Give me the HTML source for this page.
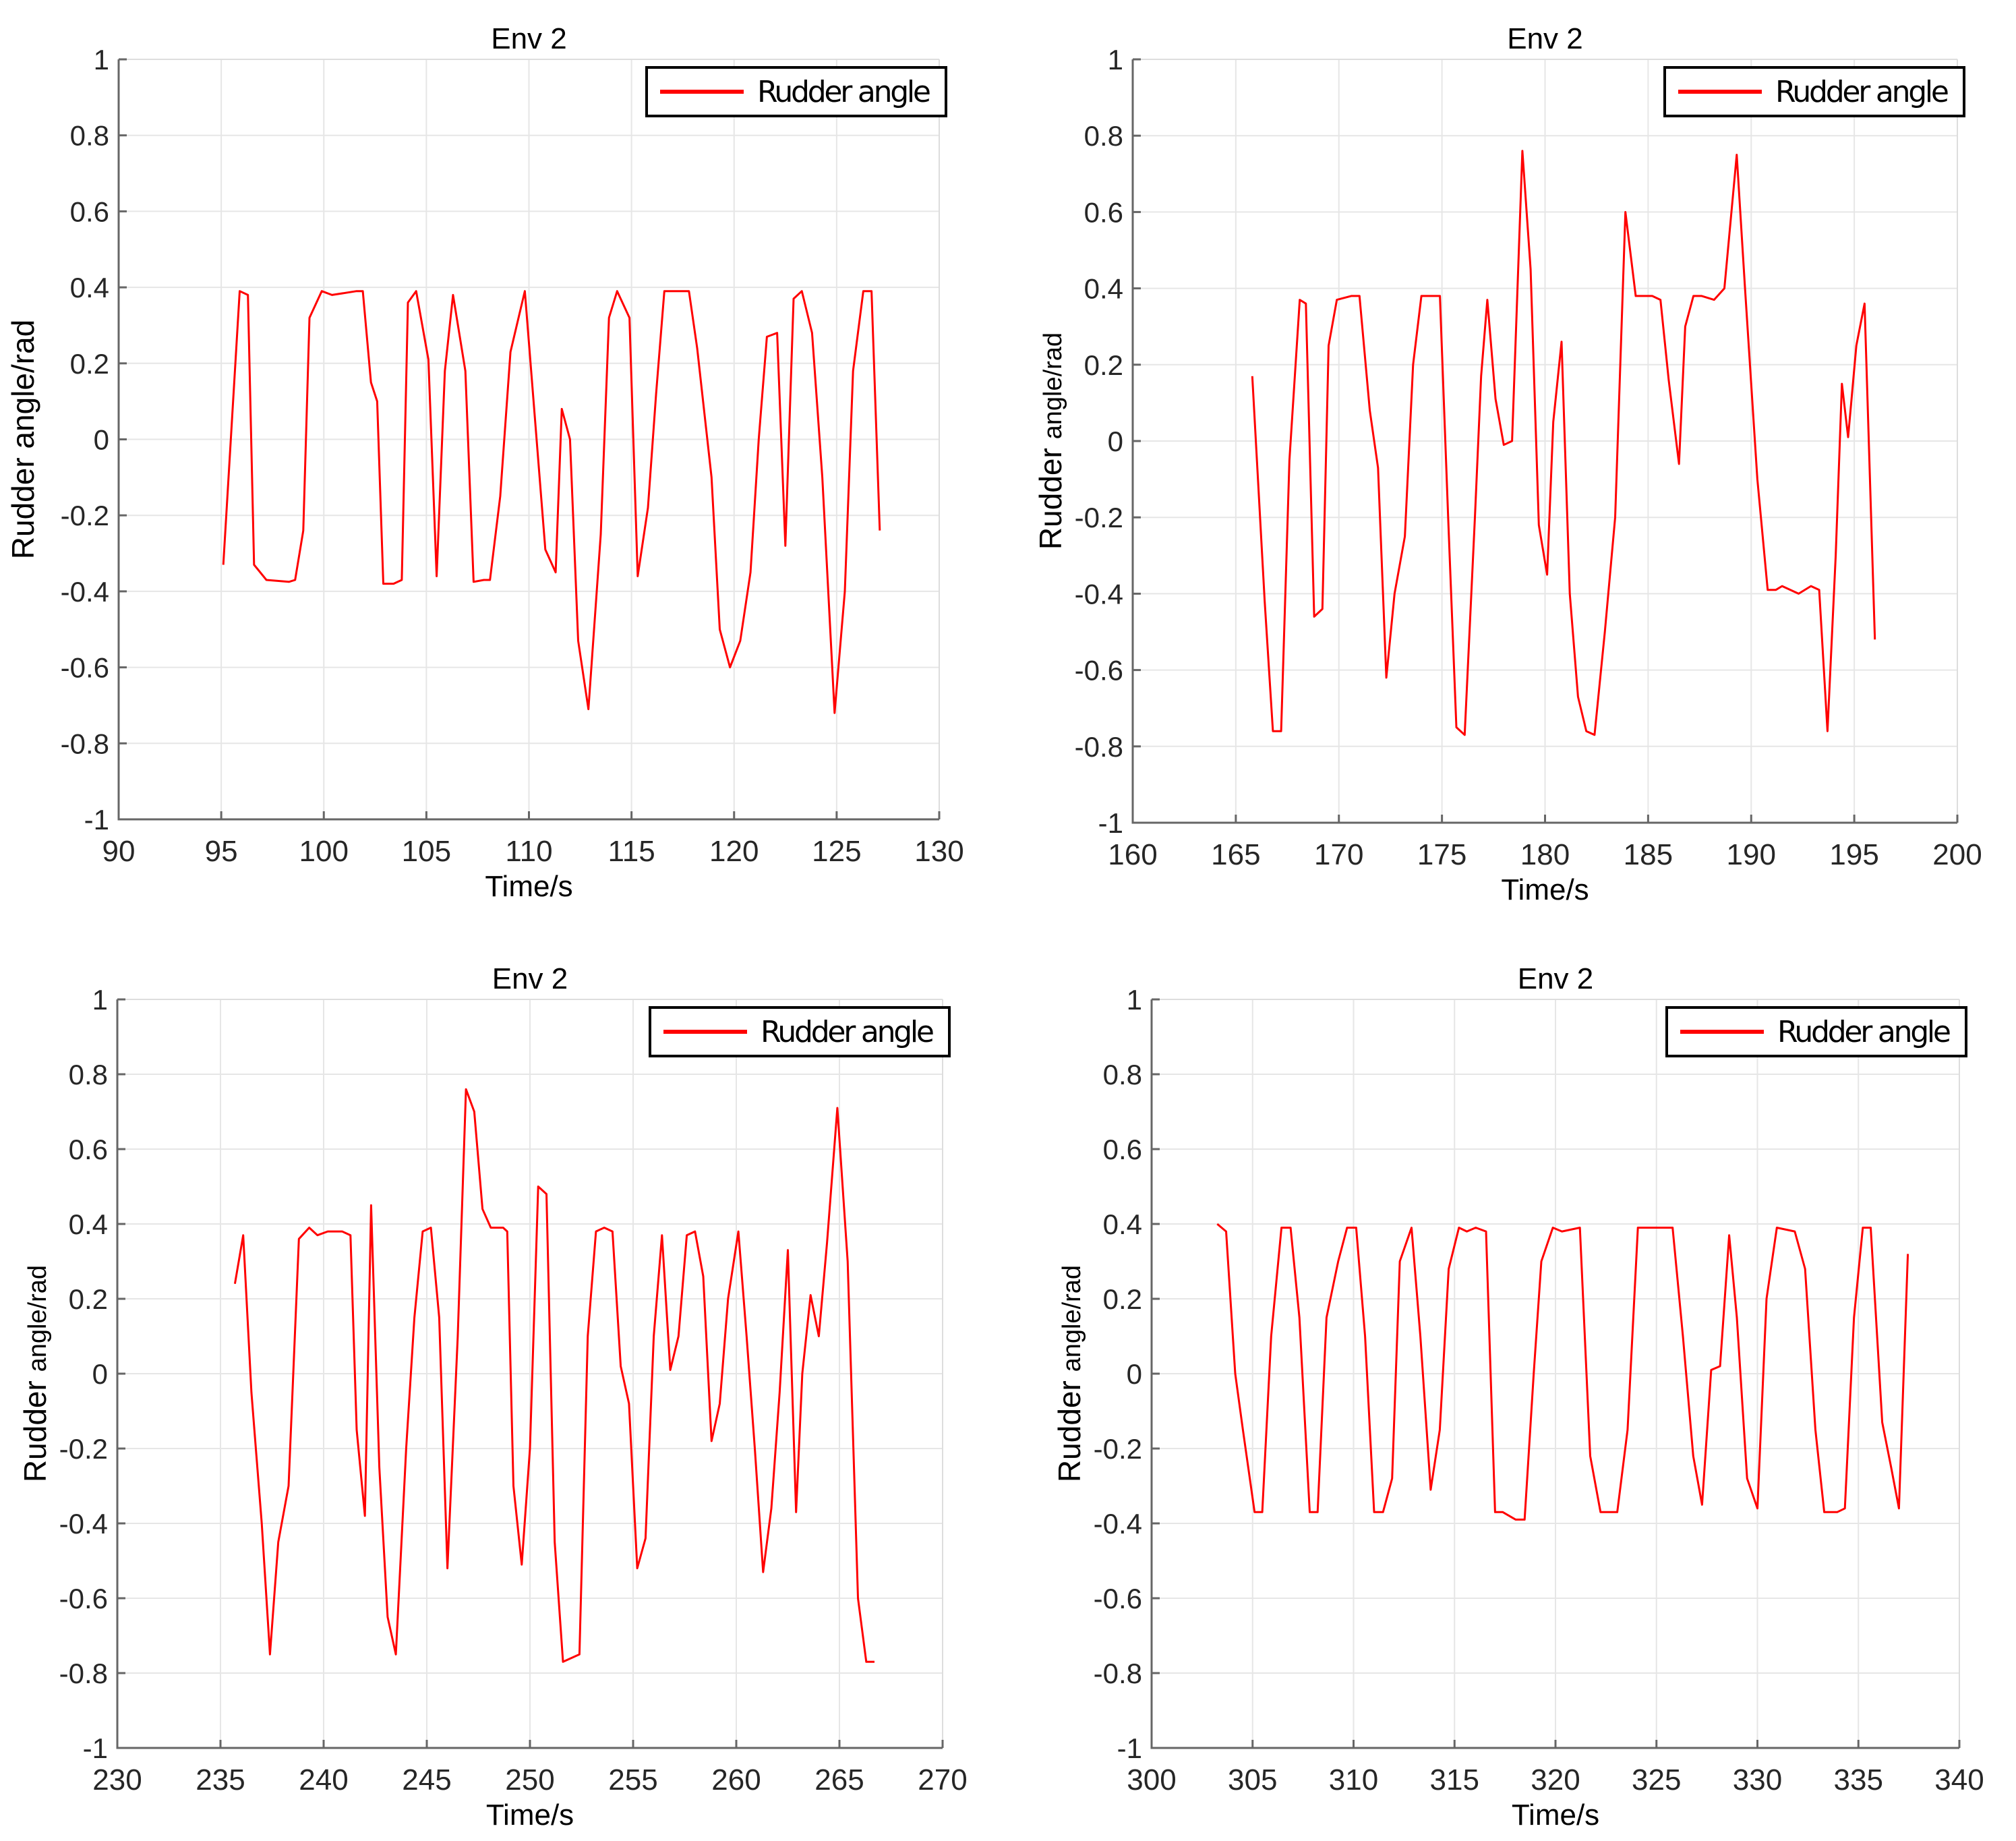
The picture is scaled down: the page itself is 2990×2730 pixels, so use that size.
<!DOCTYPE html>
<html><head><meta charset="utf-8"><style>
body{margin:0;background:#fff;}
svg{display:block;font-family:"Liberation Sans",sans-serif;}
</style></head><body>
<svg id="chart" width="2990" height="2730" viewBox="0 0 2990 2730"></svg>
<script>
const yTicks=[-1,-0.8,-0.6,-0.4,-0.2,0,0.2,0.4,0.6,0.8,1];
const yTickLabels=["-1","-0.8","-0.6","-0.4","-0.2","0","0.2","0.4","0.6","0.8","1"];
const xTicks1=[90,95,100,105,110,115,120,125,130];
const xTicks2=[160,165,170,175,180,185,190,195,200];
const xTicks3=[230,235,240,245,250,255,260,265,270];
const xTicks4=[300,305,310,315,320,325,330,335,340];
const t1=[95.1,95.9,96.3,96.6,97.2,98.3,98.6,99.0,99.3,99.9,100.4,101.6,101.9,102.3,102.6,102.9,103.4,103.8,104.1,104.5,105.1,105.5,105.9,106.3,106.9,107.3,107.8,108.1,108.6,109.1,109.8,110.8,111.3,111.6,112.0,112.4,112.9,113.5,113.9,114.3,114.9,115.3,115.8,116.2,116.6,117.3,117.8,118.2,118.9,119.3,119.8,120.3,120.8,121.2,121.6,122.1,122.5,122.9,123.3,123.8,124.3,124.9,125.4,125.8,126.3,126.7,127.1];
const v1=[-0.33,0.39,0.38,-0.33,-0.37,-0.375,-0.37,-0.24,0.32,0.39,0.38,0.39,0.39,0.15,0.1,-0.38,-0.38,-0.37,0.36,0.39,0.21,-0.36,0.18,0.38,0.18,-0.375,-0.37,-0.37,-0.15,0.23,0.39,-0.29,-0.35,0.08,0.0,-0.53,-0.71,-0.25,0.32,0.39,0.32,-0.36,-0.18,0.12,0.39,0.39,0.39,0.24,-0.1,-0.5,-0.6,-0.53,-0.35,0.0,0.27,0.28,-0.28,0.37,0.39,0.28,-0.1,-0.72,-0.4,0.18,0.39,0.39,-0.24];
const t2=[165.8,166.4,166.8,167.2,167.6,168.1,168.4,168.8,169.2,169.5,169.9,170.6,171.0,171.5,171.9,172.3,172.7,173.2,173.6,174.0,174.6,174.9,175.3,175.7,176.1,176.6,176.9,177.2,177.6,178.0,178.4,178.9,179.3,179.7,180.1,180.4,180.8,181.2,181.6,182.0,182.4,182.9,183.4,183.9,184.4,185.2,185.6,186.0,186.5,186.8,187.2,187.6,188.2,188.7,189.3,189.7,190.3,190.8,191.2,191.5,192.3,192.9,193.3,193.7,194.1,194.4,194.7,195.1,195.5,196.0];
const v2=[0.17,-0.42,-0.76,-0.76,-0.05,0.37,0.36,-0.46,-0.44,0.25,0.37,0.38,0.38,0.08,-0.07,-0.62,-0.4,-0.25,0.2,0.38,0.38,0.38,-0.2,-0.75,-0.77,-0.2,0.17,0.37,0.11,-0.01,0.0,0.76,0.45,-0.22,-0.35,0.05,0.26,-0.4,-0.67,-0.76,-0.77,-0.5,-0.2,0.6,0.38,0.38,0.37,0.16,-0.06,0.3,0.38,0.38,0.37,0.4,0.75,0.4,-0.1,-0.39,-0.39,-0.38,-0.4,-0.38,-0.39,-0.76,-0.3,0.15,0.01,0.25,0.36,-0.52];
const t3=[235.7,236.1,236.5,237.0,237.4,237.8,238.3,238.8,239.3,239.7,240.2,240.9,241.3,241.6,242.0,242.3,242.7,243.1,243.5,244.0,244.4,244.8,245.2,245.6,246.0,246.5,246.9,247.3,247.7,248.1,248.7,248.9,249.2,249.6,250.0,250.4,250.8,251.2,251.6,252.0,252.4,252.8,253.2,253.6,254.0,254.4,254.8,255.2,255.6,256.0,256.4,256.8,257.2,257.6,258.0,258.4,258.8,259.2,259.6,260.1,260.5,260.9,261.3,261.7,262.1,262.5,262.9,263.2,263.6,264.0,264.4,264.9,265.4,265.9,266.3,266.7];
const v3=[0.24,0.37,-0.05,-0.4,-0.75,-0.45,-0.3,0.36,0.39,0.37,0.38,0.38,0.37,-0.15,-0.38,0.45,-0.25,-0.65,-0.75,-0.2,0.15,0.38,0.39,0.15,-0.52,0.1,0.76,0.7,0.44,0.39,0.39,0.38,-0.3,-0.51,-0.2,0.5,0.48,-0.45,-0.77,-0.76,-0.75,0.1,0.38,0.39,0.38,0.02,-0.08,-0.52,-0.44,0.1,0.37,0.01,0.1,0.37,0.38,0.26,-0.18,-0.08,0.2,0.38,0.1,-0.2,-0.53,-0.36,-0.05,0.33,-0.37,0.0,0.21,0.1,0.35,0.71,0.3,-0.6,-0.77,-0.77];
const t4=[303.25,303.69,304.14,304.52,305.10,305.48,305.92,306.43,306.88,307.32,307.83,308.22,308.66,309.24,309.68,310.13,310.57,311.02,311.46,311.91,312.29,312.87,313.31,313.82,314.27,314.71,315.22,315.61,316.05,316.56,317.01,317.39,318.03,318.47,318.92,319.30,319.87,320.32,321.21,321.72,322.23,323.06,323.57,324.08,324.71,325.80,326.31,326.82,327.26,327.71,328.15,328.60,328.98,329.49,330.00,330.45,330.96,331.85,332.36,332.87,333.31,333.95,334.33,334.78,335.22,335.61,336.18,336.62,337.01,337.45];
const v4=[0.4,0.38,0.0,-0.15,-0.37,-0.37,0.1,0.39,0.39,0.15,-0.37,-0.37,0.15,0.3,0.39,0.39,0.1,-0.37,-0.37,-0.28,0.3,0.39,0.1,-0.31,-0.15,0.28,0.39,0.38,0.39,0.38,-0.37,-0.37,-0.39,-0.39,0.0,0.3,0.39,0.38,0.39,-0.22,-0.37,-0.37,-0.15,0.39,0.39,0.39,0.1,-0.22,-0.35,0.01,0.02,0.37,0.15,-0.28,-0.36,0.2,0.39,0.38,0.28,-0.15,-0.37,-0.37,-0.36,0.15,0.39,0.39,-0.13,-0.25,-0.36,0.32];

const NS="http://www.w3.org/2000/svg";
const svg=document.getElementById('chart');
function mk(tag,attrs,parent,text){const e=document.createElementNS(NS,tag);for(const k in attrs)e.setAttribute(k,attrs[k]);if(text!==undefined)e.textContent=text;(parent||svg).appendChild(e);return e;}

function panel(id,L,T,R,B,xTicks,ts,vs,splitLabel){
  const g=mk('g',{});
  
  
  const x0=xTicks[0],x1=xTicks[xTicks.length-1];
  const xs=v=>L+(v-x0)/(x1-x0)*(R-L);
  const ys=v=>B-(v+1)/2*(B-T);
  xTicks.forEach(v=>{const l=mk('line',{x1:xs(v),x2:xs(v),y1:T,y2:B,stroke:'#e6e6e6','stroke-width':2},g);
    
    });
  yTicks.forEach(v=>{const l=mk('line',{x1:L,x2:R,y1:ys(v),y2:ys(v),stroke:'#e6e6e6','stroke-width':2},g);
    
    });
  mk('line',{x1:L,x2:R,y1:T,y2:T,stroke:'#ddd','stroke-width':2},g);
  mk('line',{x1:R,x2:R,y1:T,y2:B,stroke:'#ddd','stroke-width':2},g);
  const ax=mk('path',{d:`M${L},${T} V${B} H${R}`,fill:'none',stroke:'#666','stroke-width':3},g);
  
  
  xTicks.forEach(v=>{mk('line',{x1:xs(v),x2:xs(v),y1:B,y2:B-12,stroke:'#666','stroke-width':3},g);
    const t=mk('text',{x:xs(v),y:B+62,'text-anchor':'middle','font-size':44,fill:'#262626'},g,String(v));
    
    });
  yTicks.forEach((v,i)=>{mk('line',{x1:L,x2:L+12,y1:ys(v),y2:ys(v),stroke:'#666','stroke-width':3},g);
    const t=mk('text',{x:L-14,y:ys(v)+15,'text-anchor':'end','font-size':42,fill:'#262626'},g,yTickLabels[i]);
    
    });
  const ti=mk('text',{x:(L+R)/2,y:T-16,'text-anchor':'middle','font-size':44,fill:'#000'},g,'Env 2');
  
  
  const xl=mk('text',{x:(L+R)/2,y:B+114,'text-anchor':'middle','font-size':44,fill:'#000'},g,'Time/s');
  
  
  const cy=(T+B)/2;
  const yl=mk('text',{x:0,y:0,'text-anchor':'middle','font-size':46,fill:'#000',transform:`translate(${L-(splitLabel?106:126)},${cy}) rotate(-90)`},g);
  
  
  if(splitLabel){mk('tspan',{},yl,'Rudder ');mk('tspan',{'font-size':38},yl,'angle/rad');}
  else yl.textContent='Rudder angle/rad';
  const pts=ts.map((t,i)=>xs(t).toFixed(1)+','+ys(vs[i]).toFixed(1)).join(' ');
  const pl=mk('polyline',{points:pts,fill:'none',stroke:'#ff0000','stroke-width':3,'stroke-linejoin':'round'},g);
  
  
  const lg=mk('g',{},g);
  
  
  mk('rect',{x:R-434,y:T+12,width:444,height:72,fill:'#fff',stroke:'#000','stroke-width':4},lg);
  mk('line',{x1:R-414,x2:R-290,y1:T+48,y2:T+48,stroke:'#ff0000','stroke-width':6},lg);
  const lt=mk('text',{x:R-270,y:T+63,'font-size':44,fill:'#000','font-family':'"DejaVu Sans","Liberation Sans",sans-serif','textLength':258},lg,'Rudder angle');
  
  
}
panel('env2-90-130',176,88,1393,1215,xTicks1,t1,v1,false);
panel('env2-160-200',1680,88,2903,1220,xTicks2,t2,v2,true);
panel('env2-230-270',174,1482,1398,2592,xTicks3,t3,v3,true);
panel('env2-300-340',1708,1482,2906,2592,xTicks4,t4,v4,true);
</script>
</body></html>
